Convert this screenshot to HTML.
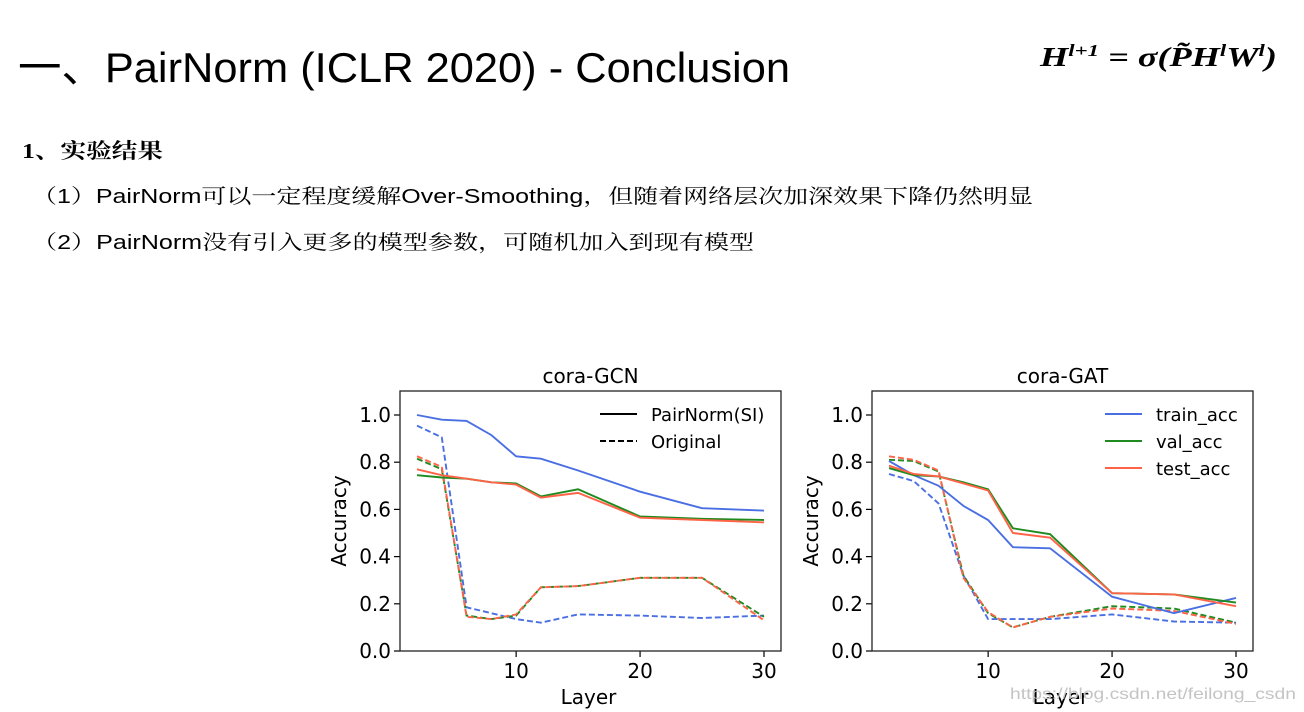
<!DOCTYPE html>
<html><head><meta charset="utf-8"><style>
html,body{margin:0;padding:0;background:#fff;width:1304px;height:712px;overflow:hidden}
svg{display:block}
</style></head><body>
<svg id="page" width="1304" height="712" xmlns="http://www.w3.org/2000/svg">
<text x="18" y="82" font-family="Liberation Sans, Noto Sans CJK SC, sans-serif" font-size="42" textLength="772" lengthAdjust="spacingAndGlyphs" fill="#000">一、PairNorm (ICLR 2020) - Conclusion</text>
<text x="1040" y="66" font-family="Liberation Serif, serif" font-size="27" font-weight="bold" font-style="italic" fill="#000" textLength="237" lengthAdjust="spacingAndGlyphs">H<tspan font-size="17" dy="-10">l+1</tspan><tspan dy="10"> = σ(P̃H</tspan><tspan font-size="17" dy="-10">l</tspan><tspan dy="10">W</tspan><tspan font-size="17" dy="-10">l</tspan><tspan dy="10">)</tspan></text>
<text x="22" y="158" font-family="Liberation Serif, Noto Serif CJK SC, serif" font-size="21" font-weight="bold" textLength="141" lengthAdjust="spacingAndGlyphs">1、实验结果</text>
<text x="32" y="203" font-family="Liberation Sans, Noto Serif CJK SC, serif" font-size="20" textLength="1001" lengthAdjust="spacingAndGlyphs">（1）PairNorm可以一定程度缓解Over-Smoothing，但随着网络层次加深效果下降仍然明显</text>
<text x="32" y="249" font-family="Liberation Sans, Noto Serif CJK SC, serif" font-size="20" textLength="722" lengthAdjust="spacingAndGlyphs">（2）PairNorm没有引入更多的模型参数，可随机加入到现有模型</text>
<g id="charts"></g>
<text x="1010" y="699" font-family="Liberation Sans, sans-serif" font-size="16" fill="#c4c4c4" textLength="286" lengthAdjust="spacingAndGlyphs">https://blog.csdn.net/feilong_csdn</text>
</svg>
<script>
const layers=[2,4,6,8,10,12,15,20,25,30];
const yTicks=[0,0.2,0.4,0.6,0.8,1.0];
const yTickLabels=["0.0","0.2","0.4","0.6","0.8","1.0"];
const xTicks=[10,20,30];
const gcnTrain=[1.0,0.98,0.975,0.915,0.825,0.815,0.765,0.675,0.605,0.595];
const gcnVal=[0.745,0.735,0.73,0.715,0.71,0.655,0.685,0.57,0.56,0.555];
const gcnTest=[0.77,0.745,0.73,0.715,0.705,0.65,0.67,0.565,0.555,0.545];
const gcnTrainOrig=[0.955,0.905,0.185,0.16,0.135,0.12,0.155,0.15,0.14,0.15];
const gcnValOrig=[0.815,0.77,0.15,0.135,0.15,0.27,0.275,0.31,0.31,0.145];
const gcnTestOrig=[0.825,0.78,0.145,0.135,0.155,0.27,0.275,0.31,0.31,0.13];
const gatTrain=[0.805,0.745,0.7,0.615,0.555,0.44,0.435,0.23,0.16,0.225];
const gatVal=[0.775,0.745,0.74,0.715,0.685,0.52,0.495,0.245,0.24,0.205];
const gatTest=[0.785,0.75,0.74,0.71,0.68,0.5,0.48,0.245,0.24,0.19];
const gatTrainOrig=[0.75,0.72,0.625,0.32,0.135,0.135,0.135,0.155,0.125,0.12];
const gatValOrig=[0.81,0.805,0.76,0.32,0.16,0.1,0.145,0.19,0.18,0.12];
const gatTestOrig=[0.825,0.81,0.765,0.31,0.165,0.1,0.145,0.18,0.17,0.115];

const NS="http://www.w3.org/2000/svg";
const root=document.getElementById('charts');
const BLUE="#4a6fe3",GREEN="#1f8a1f",RED="#ff6347";
const FS=20;
function mk(tag,attrs,parent){const e=document.createElementNS(NS,tag);for(const k in attrs)e.setAttribute(k,attrs[k]);parent.appendChild(e);return e;}

function chart(name,left,title,series,legend){
  const top=391,w=381,h=260;
  const g=mk('g',{},root);
  
  
  const xS=v=>left+17+(v-2)*(w-34)/28;
  const yS=v=>top+h-v*236;
  const t=mk('text',{x:left+w/2,y:383,'text-anchor':'middle','font-family':'DejaVu Sans, sans-serif','font-size':FS},g);
  t.textContent=title;
  
  
  yTicks.forEach((v,i)=>{
    const y=yS(v);
    const tk=mk('line',{x1:left-6,x2:left,y1:y,y2:y,stroke:'#000','stroke-width':1.2},g);
    
    
    const lb=mk('text',{x:left-9,y:y+7,'text-anchor':'end','font-family':'DejaVu Sans, sans-serif','font-size':FS},g);
    lb.textContent=yTickLabels[i];
    
    
  });
  xTicks.forEach(v=>{
    const x=xS(v);
    const tk=mk('line',{x1:x,x2:x,y1:top+h,y2:top+h+6,stroke:'#000','stroke-width':1.2},g);
    
    
    const lb=mk('text',{x:x,y:678,'text-anchor':'middle','font-family':'DejaVu Sans, sans-serif','font-size':FS},g);
    lb.textContent=v;
    
    
  });
  const xl=mk('text',{x:left+w/2-2,y:704,'text-anchor':'middle','font-family':'DejaVu Sans, sans-serif','font-size':FS},g);
  xl.textContent='Layer';
  
  
  const yl=mk('text',{x:0,y:0,'text-anchor':'middle','font-family':'DejaVu Sans, sans-serif','font-size':FS,transform:`translate(${left-54},${top+130}) rotate(-90)`},g);
  yl.textContent='Accuracy';
  
  
  series.forEach(s=>{
    const d=s.data.map((v,i)=>(i?'L':'M')+xS(layers[i]).toFixed(1)+','+yS(v).toFixed(1)).join('');
    const p=mk('path',{d:d,fill:'none',stroke:s.color,'stroke-width':1.9},g);
    if(s.dash)p.setAttribute('stroke-dasharray','6,3');
    
    
  });
  const box=mk('rect',{x:left,y:top,width:w,height:h,fill:'none',stroke:'#222','stroke-width':1.3},g);
  
  
  legend.forEach((L,i)=>{
    const y=414+i*27;
    const ln=mk('line',{x1:L.x,x2:L.x+37,y1:y,y2:y,stroke:L.color,'stroke-width':2},g);
    if(L.dash)ln.setAttribute('stroke-dasharray','6,3');
    
    
    const tx=mk('text',{x:L.x+51,y:y+7,'font-family':'DejaVu Sans, sans-serif','font-size':18},g);
    tx.textContent=L.label;
    
    
  });
}
chart('gcn-chart',400,'cora-GCN',[
  {data:gcnTrainOrig,color:BLUE,dash:1,name:'gcn-train-original'},
  {data:gcnValOrig,color:GREEN,dash:1,name:'gcn-val-original'},
  {data:gcnTestOrig,color:RED,dash:1,name:'gcn-test-original'},
  {data:gcnTrain,color:BLUE,name:'gcn-train-pairnorm'},
  {data:gcnVal,color:GREEN,name:'gcn-val-pairnorm'},
  {data:gcnTest,color:RED,name:'gcn-test-pairnorm'}
],[{x:600,color:'#000',label:'PairNorm(SI)'},{x:600,color:'#000',dash:1,label:'Original'}]);
chart('gat-chart',872,'cora-GAT',[
  {data:gatTrainOrig,color:BLUE,dash:1,name:'gat-train-original'},
  {data:gatValOrig,color:GREEN,dash:1,name:'gat-val-original'},
  {data:gatTestOrig,color:RED,dash:1,name:'gat-test-original'},
  {data:gatTrain,color:BLUE,name:'gat-train-pairnorm'},
  {data:gatVal,color:GREEN,name:'gat-val-pairnorm'},
  {data:gatTest,color:RED,name:'gat-test-pairnorm'}
],[{x:1105,color:BLUE,label:'train_acc'},{x:1105,color:GREEN,label:'val_acc'},{x:1105,color:RED,label:'test_acc'}]);
</script>
</body></html>
